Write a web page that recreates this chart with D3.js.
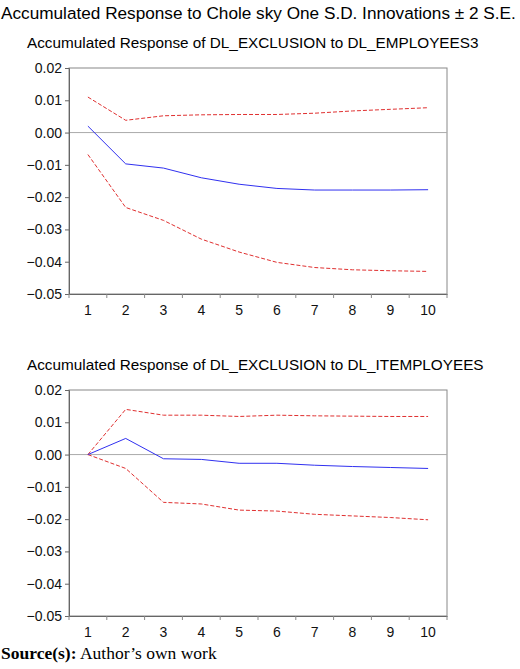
<!DOCTYPE html>
<html><head><meta charset="utf-8">
<script src="https://cdn.jsdelivr.net/npm/d3@7"></script>
<style>body{margin:0;background:#fff}text{font-family:"Liberation Sans",Arial,sans-serif}</style>
</head><body><svg id="c" width="520" height="669"></svg>
<script>
const periods = [1,2,3,4,5,6,7,8,9,10];
const yTicks = [0.02,0.01,0,-0.01,-0.02,-0.03,-0.04,-0.05];
const resp1 = [0.002,-0.0097,-0.011,-0.014,-0.016,-0.0173,-0.0178,-0.0178,-0.0178,-0.0177];
const upper1 = [0.011,0.0038,0.0052,0.0055,0.0056,0.0056,0.006,0.0067,0.0072,0.0077];
const lower1 = [-0.0068,-0.0232,-0.0272,-0.033,-0.037,-0.0402,-0.0418,-0.0425,-0.0428,-0.043];
const resp2 = [0,0.005,-0.0013,-0.0015,-0.0027,-0.0027,-0.0033,-0.0037,-0.004,-0.0043];
const upper2 = [0,0.014,0.0122,0.0122,0.0118,0.0122,0.012,0.0119,0.0118,0.0118];
const lower2 = [0,-0.0043,-0.0148,-0.0153,-0.0172,-0.0175,-0.0185,-0.019,-0.0195,-0.0202];

const svg = d3.select("#c");
svg.append("text").attr("x",1).attr("y",19).attr("font-size",17.2)
  .text("Accumulated Response to Chole sky One S.D. Innovations \u00b1 2 S.E.");

function panel(top, title, resp, up, lo) {
  const x = d3.scaleBand().domain(periods).range([69,447]);
  const y = d3.scaleLinear().domain([-0.05,0.02]).range([top+226, top]);
  const g = svg.append("g");
  g.append("text").attr("x",27).attr("y",top-20).attr("font-size",15.3).text(title);
  g.append("rect").attr("x",69).attr("y",top).attr("width",378).attr("height",226)
    .attr("fill","none").attr("stroke","#888");
  g.append("line").attr("x1",69).attr("x2",447).attr("y1",y(0)).attr("y2",y(0)).attr("stroke","#aaa");
  const ya = g.append("g").attr("transform","translate(69,0)")
    .call(d3.axisLeft(y).tickValues(yTicks).tickSize(4).tickFormat(d => d3.format(".2f")(d).replace("-","\u2212")));
  const xa = g.append("g").attr("transform",`translate(0,${top+226})`)
    .call(d3.axisBottom(x).tickSize(0));
  g.append("g").selectAll("line").data(d3.range(11)).join("line")
    .attr("x1",d=>69+d*x.step()).attr("x2",d=>69+d*x.step())
    .attr("y1",top+226).attr("y2",top+230).attr("stroke","#888");
  [ya,xa].forEach(a=>{a.select(".domain").attr("stroke","#666");a.selectAll("line").attr("stroke","#666");
    a.selectAll("text").attr("font-size",14).attr("fill","#111")});
  xa.selectAll("text").attr("dy","1.25em");
  const line = d3.line().x((d,i)=>x(periods[i])+x.bandwidth()/2).y(d=>y(d));
  g.append("path").attr("d",line(up)).attr("fill","none").attr("stroke","#e03030").attr("stroke-dasharray","4,2");
  g.append("path").attr("d",line(lo)).attr("fill","none").attr("stroke","#e03030").attr("stroke-dasharray","4,2");
  g.append("path").attr("d",line(resp)).attr("fill","none").attr("stroke","#3030f0");
}
panel(68,"Accumulated Response of DL_EXCLUSION to DL_EMPLOYEES3",resp1,upper1,lower1);
panel(390,"Accumulated Response of DL_EXCLUSION to DL_ITEMPLOYEES",resp2,upper2,lower2);

const s = svg.append("text").attr("x",1).attr("y",659).attr("font-size",17.5)
  .style("font-family","'Liberation Serif','Times New Roman',serif");
s.append("tspan").attr("font-weight","bold").style("font-family","'Liberation Serif',serif").text("Source(s):");
s.append("tspan").style("font-family","'Liberation Serif',serif").text(" Author\u2019s own work");
</script></body></html>
